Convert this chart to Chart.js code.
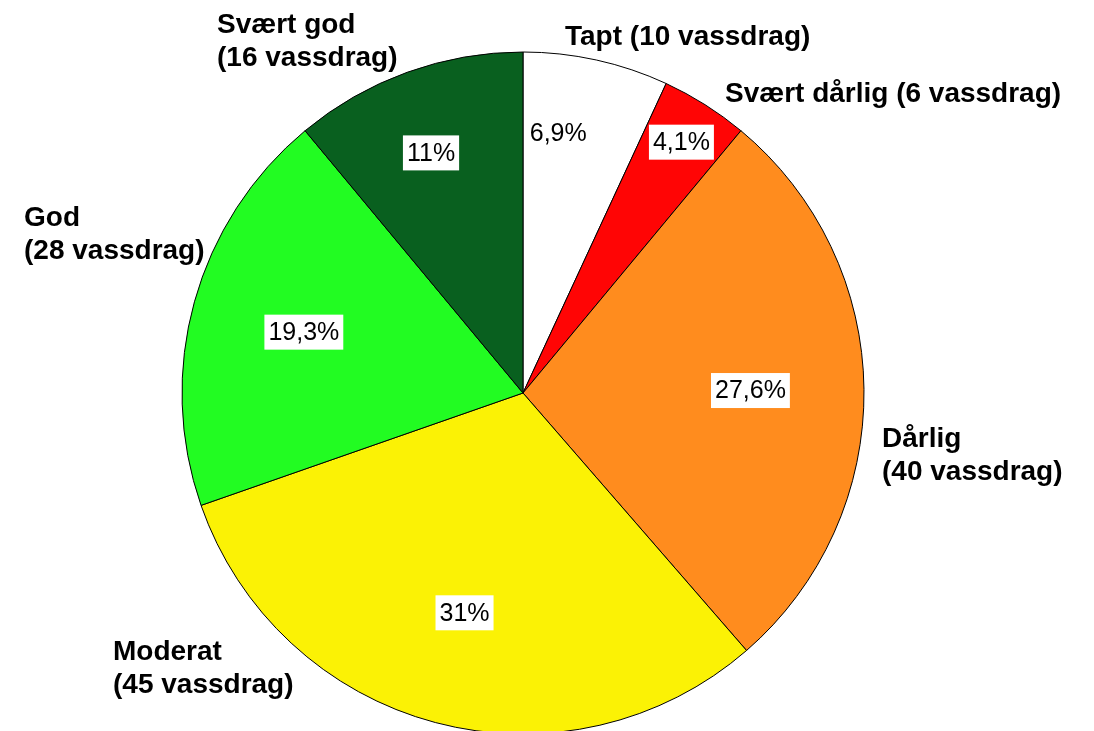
<!DOCTYPE html>
<html>
<head>
<meta charset="utf-8">
<title>Vassdrag</title>
<script src="https://cdn.jsdelivr.net/npm/chart.js@4/dist/chart.umd.min.js"></script>
<style>
  body { margin: 0; background: #fff; overflow: hidden; }
  #wrap { position: absolute; left: 0; top: 0; }
</style>
</head>
<body>
<div id="wrap"><canvas id="myChart" width="1094" height="786"></canvas></div>
<script>
// categories, clockwise from 12 o'clock
const categories = ["Tapt", "Svært dårlig", "Dårlig", "Moderat", "God", "Svært god"];
const counts = [10, 6, 40, 45, 28, 16];
const colors = ["#ffffff", "#ff0505", "#ff8c1e", "#fbf205", "#22fc22", "#09601f"];

// where the percent boxes sit: fraction of radius, and a small angle nudge (deg)
const pctRadius = [0.77, 0.87, 0.667, 0.667, 0.667, 0.754];
const pctNudge = [-4.7, 0, 0, 0, 0, -1.1];

// outside labels: offset from pie centre, and whether to wrap the count
const outerOffset = [[42, -348], [202, -291], [359, 54], [-410, 267], [-499, -167], [-306, -360]];
const outerWrap = [false, false, true, true, true, true];

function pctText(v, total) {
  let s = (v / total * 100).toFixed(1);
  if (s.endsWith(".0")) s = s.slice(0, -2);
  return s.replace(".", ",") + "%";
}

const labelPlugin = {
  id: "pieLabels",
  afterDatasetsDraw(chart) {
    const ctx = chart.ctx;
    const meta = chart.getDatasetMeta(0);
    const total = counts.reduce((a, b) => a + b, 0);
    ctx.save();
    meta.data.forEach((arc, i) => {
      const p = arc.getProps(["x", "y", "startAngle", "endAngle", "outerRadius"], true);
      const mid = (p.startAngle + p.endAngle) / 2 + pctNudge[i] * Math.PI / 180;
      const r = p.outerRadius * pctRadius[i];
      const cx = p.x + Math.cos(mid) * r;
      const cy = p.y + Math.sin(mid) * r;
      const txt = pctText(counts[i], total);
      ctx.font = '25px "Liberation Sans", Arial, sans-serif';
      const w = ctx.measureText(txt).width + 8;
      ctx.fillStyle = "#ffffff";
      ctx.fillRect(cx - w / 2, cy - 17.5, w, 35);
      ctx.fillStyle = "#000000";
      ctx.textAlign = "center";
      ctx.textBaseline = "middle";
      ctx.fillText(txt, cx, cy + 1);

      // bold outside label
      ctx.font = 'bold 28px "Liberation Sans", Arial, sans-serif';
      ctx.textAlign = "left";
      ctx.textBaseline = "alphabetic";
      const lx = p.x + outerOffset[i][0];
      const ly = p.y + outerOffset[i][1];
      const countTxt = "(" + counts[i] + " vassdrag)";
      if (outerWrap[i]) {
        ctx.fillText(categories[i], lx, ly);
        ctx.fillText(countTxt, lx, ly + 33);
      } else {
        ctx.fillText(categories[i] + " " + countTxt, lx, ly);
      }
    });
    ctx.restore();
  }
};

function initChart(target) {
  const data = {
    labels: categories,
    datasets: [{
      data: counts,
      backgroundColor: colors,
      borderColor: "#000000",
      borderWidth: 1,
      hoverOffset: 0
    }]
  };
  const config = {
    type: "pie",
    data: data,
    options: {
      responsive: false,
      animation: false,
      radius: 341,
      layout: { padding: { left: 0, right: 48, top: 0, bottom: 0 } },
      plugins: {
        legend: { display: false },
        tooltip: { enabled: false }
      }
    },
    plugins: [labelPlugin]
  };
  return new Chart(target, config);
}

document.addEventListener("DOMContentLoaded", () => {
  initChart(document.querySelector("#myChart"));
});
</script>
</body>
</html>
